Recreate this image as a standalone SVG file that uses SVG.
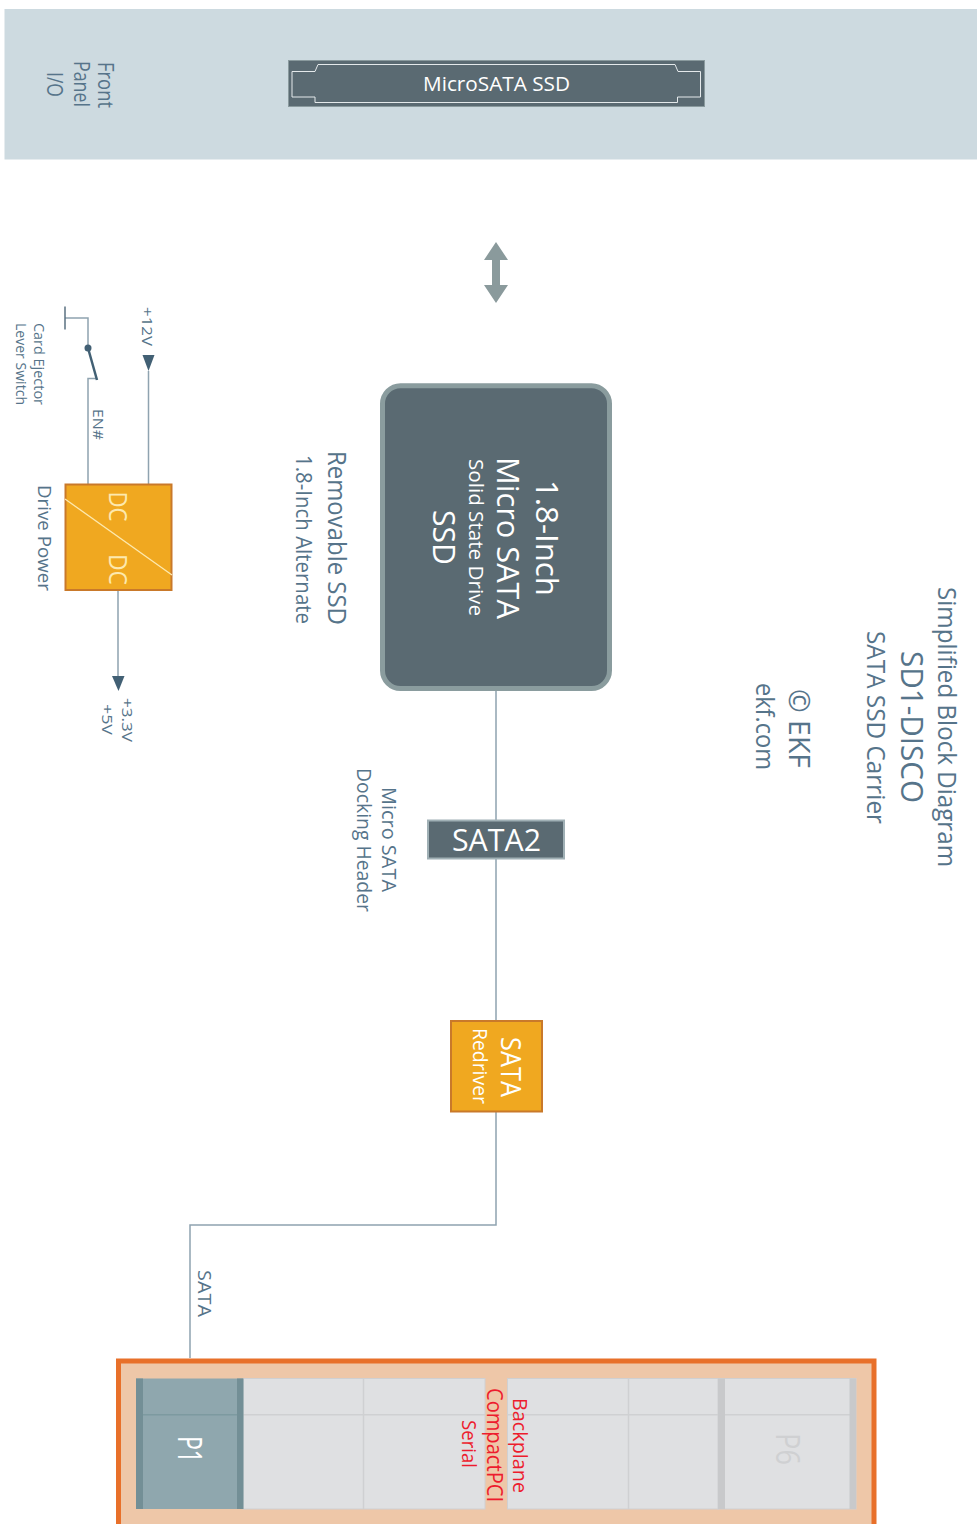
<svg xmlns="http://www.w3.org/2000/svg" width="977" height="1524" viewBox="0 0 977 1524">
<style>
text{font-family:"Open Sans","Noto Sans","Liberation Sans",sans-serif;font-weight:400}
.l{fill:#56748a}.w{fill:#fff}.r{fill:#ed1c2e}.cream{fill:#fde9ae}
.c{fill:none;stroke:#8fa3b0;stroke-width:1.5}
.dark{fill:#5a6a72}.or{fill:#f0a820;stroke:#c9792a;stroke-width:2}
.ah{fill:#426074}
.slot{fill:#dfe0e2;stroke:#cfd0d2;stroke-width:1}
.sl{stroke:#cfd0d2;stroke-width:1.5;fill:none}
.bar{fill:#c8c9cb}
</style>
<rect width="977" height="1524" fill="#fff"/>
<g id="front-panel">
<rect x="4.5" y="9" width="973" height="150.5" fill="#cddae0"/>
<text class="l" font-size="22" transform="translate(98 62) rotate(90)" textLength="46" lengthAdjust="spacingAndGlyphs">Front</text>
<text class="l" font-size="22" transform="translate(74 61) rotate(90)" textLength="46" lengthAdjust="spacingAndGlyphs">Panel</text>
<text class="l" font-size="22" transform="translate(47 72) rotate(90)" textLength="25" lengthAdjust="spacingAndGlyphs">I/O</text>
</g>
<g id="microsata-connector">
<rect x="288.500" y="60.500" width="416" height="46" class="dark" stroke="#8a9a9e" stroke-width="1"/>
<path d="M292 71.500H315L318 64.500H675L678 71.500H700.500V97H677.500V102.500H315V97H292Z" fill="none" stroke="#e4e9eb" stroke-width="1"/>
<text class="w" font-size="20" x="423" y="91" textLength="147" lengthAdjust="spacingAndGlyphs">MicroSATA SSD</text>
</g>
<g id="bidirectional-arrow">
<path d="M496 242L508 260H500V285H508L496 303L484 285H492V260H484Z" fill="#8a9a9c"/>
</g>
<g id="connectors">
<path class="c" d="M496 691V820M496 858V1020M496 1112V1225H190V1358"/>
<path class="c" d="M148.500 371V484M118 590V676M88 484V378.500H96M88 348V318H65"/>
<path d="M65 306.500V329.500" fill="none" stroke="#5a7080" stroke-width="1.500"/>
<path d="M88 348L97 380" fill="none" stroke="#426074" stroke-width="2.500"/>
<circle cx="88" cy="348" r="3.500" class="ah"/>
<path class="ah" d="M142.500 355H154.500L148.500 371Z"/>
<path class="ah" d="M112 676H124.500L118.500 691Z"/>
</g>
<g id="ssd">
<rect x="382.500" y="385.800" width="227" height="302.700" rx="18" class="dark" stroke="#8a9c9e" stroke-width="5"/>
<text class="w" font-size="31" transform="translate(535.500 480) rotate(90)" textLength="116" lengthAdjust="spacingAndGlyphs">1.8-Inch</text>
<text class="w" font-size="31" transform="translate(497 457) rotate(90)" textLength="162" lengthAdjust="spacingAndGlyphs">Micro SATA</text>
<text class="w" font-size="20" transform="translate(469 459) rotate(90)" textLength="157" lengthAdjust="spacingAndGlyphs">Solid State Drive</text>
<text class="w" font-size="31" transform="translate(432.500 510) rotate(90)" textLength="55" lengthAdjust="spacingAndGlyphs">SSD</text>
</g>
<g id="ssd-label">
<text class="l" font-size="25" transform="translate(328 451) rotate(90)" textLength="174" lengthAdjust="spacingAndGlyphs">Removable SSD</text>
<text class="l" font-size="21" transform="translate(295.500 455) rotate(90)" textLength="169" lengthAdjust="spacingAndGlyphs">1.8-Inch Alternate</text>
</g>
<g id="title">
<text class="l" font-size="25" transform="translate(937.500 587) rotate(90)" textLength="280" lengthAdjust="spacingAndGlyphs">Simplified Block Diagram</text>
<text class="l" font-size="31" transform="translate(901 651) rotate(90)" textLength="152" lengthAdjust="spacingAndGlyphs">SD1-DISCO</text>
<text class="l" font-size="25" transform="translate(867 631) rotate(90)" textLength="193" lengthAdjust="spacingAndGlyphs">SATA SSD Carrier</text>
<text class="l" font-size="29" transform="translate(789 689) rotate(90)" textLength="79" lengthAdjust="spacingAndGlyphs">© EKF</text>
<text class="l" font-size="25" transform="translate(755.500 683) rotate(90)" textLength="87" lengthAdjust="spacingAndGlyphs">ekf.com</text>
</g>
<g id="sata2">
<rect x="428" y="820.500" width="136" height="38" class="dark" stroke="#a0b0b5" stroke-width="2"/>
<text class="w" font-size="31" x="452" y="851" textLength="89" lengthAdjust="spacingAndGlyphs">SATA2</text>
<text class="l" font-size="20" transform="translate(382 787) rotate(90)" textLength="105" lengthAdjust="spacingAndGlyphs">Micro SATA</text>
<text class="l" font-size="20" transform="translate(356.500 768) rotate(90)" textLength="144" lengthAdjust="spacingAndGlyphs">Docking Header</text>
</g>
<g id="sata-redriver">
<rect x="451" y="1021" width="91" height="90.500" class="or"/>
<text class="w" font-size="27" transform="translate(500.500 1037) rotate(90)" textLength="60" lengthAdjust="spacingAndGlyphs">SATA</text>
<text class="w" font-size="20" transform="translate(473 1028) rotate(90)" textLength="76" lengthAdjust="spacingAndGlyphs">Redriver</text>
</g>
<g id="dc-dc">
<rect x="65.500" y="484.500" width="106" height="105.500" class="or"/>
<path d="M65 499L172 575" fill="none" stroke="#fde9ae" stroke-width="1.300"/>
<text class="cream" font-size="25" transform="translate(108.500 491.500) rotate(90)" textLength="30" lengthAdjust="spacingAndGlyphs">DC</text>
<text class="cream" font-size="25" transform="translate(108.500 554) rotate(90)" textLength="31" lengthAdjust="spacingAndGlyphs">DC</text>
<text class="l" font-size="19" transform="translate(37.500 485) rotate(90)" textLength="106" lengthAdjust="spacingAndGlyphs">Drive Power</text>
</g>
<g id="power-labels">
<text class="l" font-size="14" transform="translate(142 307) rotate(90)" textLength="39" lengthAdjust="spacingAndGlyphs">+12V</text>
<text class="l" font-size="14" transform="translate(92.500 409) rotate(90)" textLength="31" lengthAdjust="spacingAndGlyphs">EN#</text>
<text class="l" font-size="14" transform="translate(33.500 323) rotate(90)" textLength="82" lengthAdjust="spacingAndGlyphs">Card Ejector</text>
<text class="l" font-size="14" transform="translate(15.500 323) rotate(90)" textLength="82" lengthAdjust="spacingAndGlyphs">Lever Switch</text>
<text class="l" font-size="14" transform="translate(121.500 698) rotate(90)" textLength="44" lengthAdjust="spacingAndGlyphs">+3.3V</text>
<text class="l" font-size="14" transform="translate(102 704) rotate(90)" textLength="31" lengthAdjust="spacingAndGlyphs">+5V</text>
</g>
<text id="sata-label" class="l" font-size="19" transform="translate(197.500 1270) rotate(90)" textLength="47" lengthAdjust="spacingAndGlyphs">SATA</text>
<g id="backplane">
<rect x="118.500" y="1361" width="755.500" height="175" fill="#eec7a8" stroke="#e8702a" stroke-width="5"/>
<rect x="243" y="1378.500" width="242" height="130.500" class="slot"/>
<rect x="507.500" y="1378.500" width="211" height="130.500" class="slot"/>
<rect x="718" y="1378.500" width="138" height="130.500" class="slot"/>
<path class="sl" d="M243 1414.700H485M507.500 1414.700H856M363.500 1378.500V1509M628.500 1378.500V1509"/>
<rect x="718" y="1378.500" width="7" height="130.500" class="bar"/>
<rect x="849.500" y="1378.500" width="6.500" height="130.500" class="bar"/>
<text fill="#cfd0d2" font-size="32" transform="translate(776 1433) rotate(90)" textLength="32" lengthAdjust="spacingAndGlyphs">P6</text>
<rect x="136" y="1378.500" width="107" height="130.500" fill="#8fa7ae"/>
<rect x="136" y="1378.500" width="7" height="130.500" fill="#738f96"/>
<rect x="237" y="1378.500" width="6.500" height="130.500" fill="#738f96"/>
<path d="M143 1414.700H237" fill="none" stroke="#7d9aa0" stroke-width="1.500"/>
<text class="w" font-size="32" transform="translate(178 1436) rotate(90)" textLength="27" lengthAdjust="spacingAndGlyphs">P1</text>
<text class="r" font-size="22" transform="translate(487 1388) rotate(90)" textLength="114" lengthAdjust="spacingAndGlyphs">CompactPCI</text>
<text class="r" font-size="20" transform="translate(513 1398) rotate(90)" textLength="95" lengthAdjust="spacingAndGlyphs">Backplane</text>
<text class="r" font-size="20" transform="translate(462 1420) rotate(90)" textLength="48" lengthAdjust="spacingAndGlyphs">Serial</text>
</g>
</svg>
